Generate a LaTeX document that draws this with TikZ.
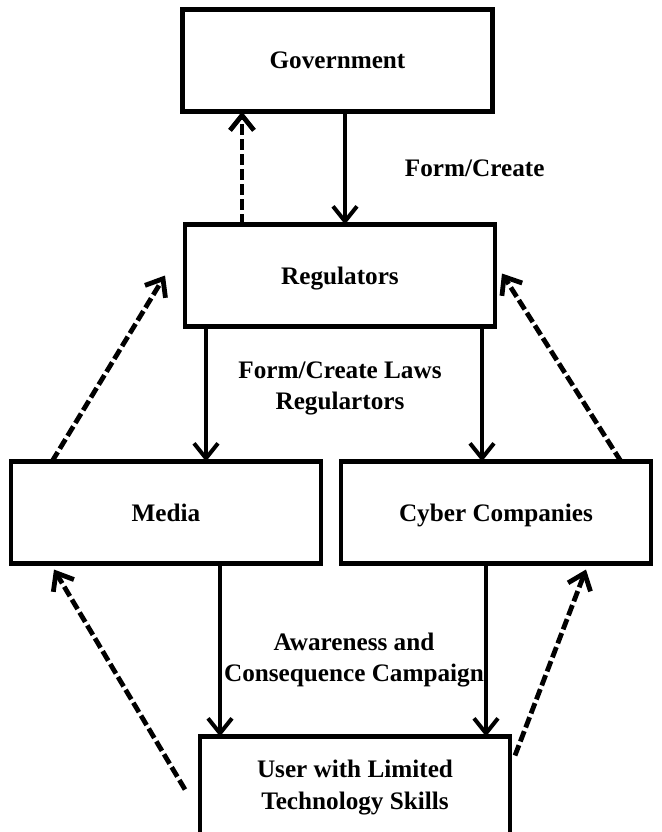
\documentclass[tikz,border=0pt]{standalone}
\usepackage{fontspec}
\setmainfont{Liberation Serif}
\usetikzlibrary{positioning}
\usetikzlibrary{calc}
\usetikzlibrary{arrows.meta}
\tikzset{
  box/.style      = { rectangle, minimum width=155pt, minimum height=51pt, outer sep=0pt, align=center },
  border/.style   = { line width=2.2pt, draw=black },
  entity/.style   = { box, border },
  single/.style   = { entity, text depth=0pt },
  flow/.style     = { ->, line width=2pt },
  feedback/.style = { ->, line width=2.4pt, dash pattern=on 5.5pt off 2pt },
  caption/.style  = { inner sep=0pt, align=center },
}

\begin{document}
\begin{tikzpicture}[
  >={Straight Barb[length=7.5pt,width=12pt]},
  font=\bfseries\fontsize{12.6}{15.75}\selectfont,
]
  \useasboundingbox (-168.75pt,30.25pt) rectangle (162.25pt,-385.75pt);

  \node (gov)   [single]                                    {Government};
  \node (reg)   [single,below=56.5pt of gov,xshift=1.25pt]  {Regulators};
  \node (media) [single,below=67.5pt of reg,xshift=-87pt]   {Media};
  \node (cyber) [single,right=10pt of media]                {Cyber Companies};
  \node (user)  [entity,below=86.5pt of media,xshift=94.5pt] {User with Limited\\Technology Skills};

  \coordinate (govdown)   at ($(gov.south)+(3.75pt,0)$);
  \coordinate (regup)     at ($(reg.north)+(-49pt,0)$);
  \coordinate (regleft)   at ($(reg.south)+(-67pt,0)$);
  \coordinate (regright)  at ($(reg.south)+(71pt,0)$);
  \coordinate (userleft)  at ($(user.north)+(-67.5pt,0)$);
  \coordinate (userright) at ($(user.north)+(65.5pt,0)$);

  \draw [flow] (govdown)  -- (govdown |- reg.north)
    node [midway,right=29pt,caption] {Form/Create};
  \draw [flow] (regleft)  -- (regleft |- media.north);
  \draw [flow] (regright) -- (regright |- cyber.north);
  \draw [flow] (userleft |- media.south)  -- (userleft);
  \draw [flow] (userright |- cyber.south) -- (userright);

  \node (lawtext)  [caption] at ($(reg.south)+(0,-31pt)$)        {Form/Create Laws\\Regulartors};
  \node (campaign) [caption] at ($(user.north)+(-0.5pt,38.25pt)$) {Awareness and\\Consequence Campaign};

  \draw [feedback] (regup) -- (regup |- gov.south);
  \draw [feedback] ($(media.north west)+(20.5pt,0)$) -- ($(reg.west)+(-10pt,0)$);
  \draw [feedback] ($(cyber.north east)+(-15pt,0)$)  -- ($(reg.east)+(3.5pt,1pt)$);
  \draw [feedback] ($(user.west)+(-7.5pt,-1pt)$)      -- ($(media.south west)+(21.5pt,-3pt)$);
  \draw [feedback] ($(user.north east)+(2.5pt,-9.5pt)$) -- ($(cyber.south east)+(-32.5pt,-3pt)$);
\end{tikzpicture}
\end{document}
